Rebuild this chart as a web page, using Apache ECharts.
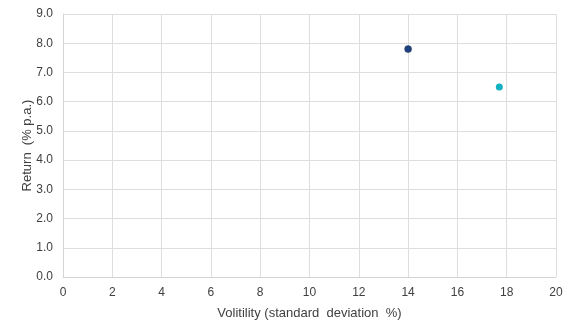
<!DOCTYPE html>
<html>
<head>
<meta charset="utf-8">
<script src="https://cdn.jsdelivr.net/npm/echarts@6/dist/echarts.min.js"></script>
<style>
  html, body { margin: 0; padding: 0; background: #ffffff; }
  #chart { width: 577px; height: 334px; }
</style>
</head>
<body>
<div id="chart"></div>
<script>
// Risk / return points: [volatility %, return % p.a.]
const pointA = [14.0, 7.8];
const pointB = [17.7, 6.5];
const pointColors = ['#1d4180', '#13b1c2'];

const xTicks = { min: 0, max: 20, interval: 2 };
const yTicks = { min: 0, max: 9, interval: 1 };

const chart = echarts.init(document.getElementById('chart'), null, { renderer: 'canvas' });
const gridColor = '#dedede';
const textColor = '#404040';
const font = 'Liberation Sans, Arial, sans-serif';

chart.setOption({
  animation: false,
  grid: { left: 63, right: 21, top: 14, bottom: 57, containLabel: false },
  xAxis: {
    type: 'value',
    min: xTicks.min, max: xTicks.max, interval: xTicks.interval,
    name: 'Volitility (standard  deviation  %)',
    nameLocation: 'middle', nameGap: 30, nameMoveOverlap: false,
    nameTextStyle: { color: textColor, fontSize: 13, fontFamily: font },
    axisLine: { show: true, lineStyle: { color: '#d4d4d4', width: 1 } },
    axisTick: { show: false },
    axisLabel: { color: textColor, fontSize: 12, fontFamily: font, margin: 10 },
    splitLine: { show: true, lineStyle: { color: gridColor, width: 1 } }
  },
  yAxis: {
    type: 'value',
    min: yTicks.min, max: yTicks.max, interval: yTicks.interval,
    name: 'Return  (% p.a.)',
    nameLocation: 'middle', nameGap: 29, nameMoveOverlap: false,
    nameTextStyle: { color: textColor, fontSize: 13, fontFamily: font },
    axisLine: { show: true, lineStyle: { color: '#d4d4d4', width: 1 } },
    axisTick: { show: false },
    axisLabel: {
      color: textColor, fontSize: 12, fontFamily: font, margin: 10,
      formatter: v => v.toFixed(1)
    },
    splitLine: { show: true, lineStyle: { color: gridColor, width: 1 } }
  },
  series: [
    {
      type: 'scatter', data: [pointA], symbolSize: 7,
      itemStyle: { color: pointColors[0], opacity: 1, borderColor: '#2b3a55', borderWidth: 0.5 }
    },
    {
      type: 'scatter', data: [pointB], symbolSize: 7,
      itemStyle: { color: pointColors[1], opacity: 1 }
    }
  ]
});
</script>
</body>
</html>
